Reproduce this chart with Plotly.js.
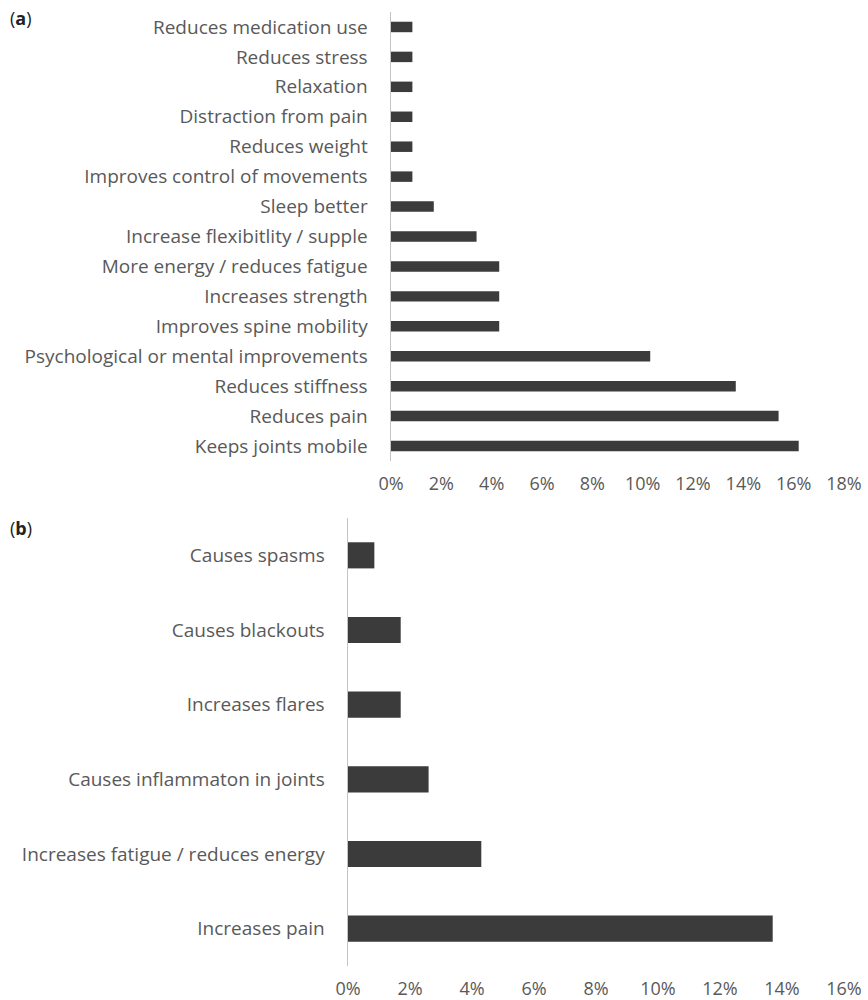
<!DOCTYPE html>
<html>
<head>
<meta charset="utf-8">
<script src="https://cdn.plot.ly/plotly-3.0.1.min.js"></script>
<style>
  html, body { margin: 0; padding: 0; background: #fff; }
  #chart { width: 868px; height: 1000px; }
</style>
</head>
<body>
<div id="chart"></div>
<script>
// (a) perceived benefits of exercise, listed top to bottom
const benefitLabels = [
  'Reduces medication use',
  'Reduces stress',
  'Relaxation',
  'Distraction from pain',
  'Reduces weight',
  'Improves control of movements',
  'Sleep better',
  'Increase flexibitlity / supple',
  'More energy / reduces fatigue',
  'Increases strength',
  'Improves spine mobility',
  'Psychological or mental improvements',
  'Reduces stiffness',
  'Reduces pain',
  'Keeps joints mobile'
];
const benefitPct = [0.85, 0.85, 0.85, 0.85, 0.85, 0.85, 1.7, 3.4, 4.3, 4.3, 4.3, 10.3, 13.7, 15.4, 16.2];

// (b) perceived harms of exercise, listed top to bottom
const harmLabels = [
  'Causes spasms',
  'Causes blackouts',
  'Increases flares',
  'Causes inflammaton in joints',
  'Increases fatigue / reduces energy',
  'Increases pain'
];
const harmPct = [0.85, 1.7, 1.7, 2.6, 4.3, 13.7];

const axisRangeA = [0, 18];
const axisRangeB = [0, 16];

const barColor = '#3b3b3b';
const textColor = '#595959';
const fontFamily = '"Open Sans", "Liberation Sans", sans-serif';
const W = 868, H = 1000;

const traces = [
  {
    type: 'bar', orientation: 'h',
    y: benefitLabels, x: benefitPct,
    xaxis: 'x', yaxis: 'y',
    marker: { color: barColor, line: { width: 0 } },
    hoverinfo: 'x+y'
  },
  {
    type: 'bar', orientation: 'h',
    y: harmLabels, x: harmPct,
    xaxis: 'x2', yaxis: 'y2',
    marker: { color: barColor, line: { width: 0 } },
    hoverinfo: 'x+y'
  }
];

const xTickFont = { family: fontFamily, size: 18, color: textColor };
const yTickFont = { family: fontFamily, size: 19, color: textColor };

const xCommon = {
  showgrid: false, zeroline: false, showline: false,
  ticks: '', dtick: 2, ticksuffix: '%',
  tickfont: xTickFont, fixedrange: true, ticklabelstandoff: 10
};
const yCommon = {
  type: 'category', autorange: 'reversed',
  showgrid: false, zeroline: false,
  showline: true, linecolor: '#c4c4c4', linewidth: 1.5,
  ticks: '', tickfont: yTickFont, fixedrange: true, ticklabelstandoff: 18
};

const layout = {
  width: W, height: H,
  margin: { l: 0, r: 0, t: 0, b: 0 },
  paper_bgcolor: '#ffffff', plot_bgcolor: '#ffffff',
  showlegend: false,
  bargap: 0.65,
  font: { family: fontFamily, color: textColor },
  xaxis: Object.assign({}, xCommon, {
    domain: [391 / W, 844 / W], range: axisRangeA, anchor: 'y'
  }),
  yaxis: Object.assign({}, yCommon, {
    domain: [1 - 461 / H, 1 - 12 / H], anchor: 'x'
  }),
  xaxis2: Object.assign({}, xCommon, {
    domain: [348 / W, 844 / W], range: axisRangeB, anchor: 'y2'
  }),
  yaxis2: Object.assign({}, yCommon, {
    domain: [1 - 966 / H, 1 - 518 / H], anchor: 'x2'
  }),
  annotations: [
    {
      text: '(<b>a</b>)', xref: 'paper', yref: 'paper',
      x: 8 / W, y: 1 - 18 / H, xanchor: 'left', yanchor: 'middle',
      showarrow: false, font: { family: fontFamily, size: 18, color: '#222222' }
    },
    {
      text: '(<b>b</b>)', xref: 'paper', yref: 'paper',
      x: 8 / W, y: 1 - 528 / H, xanchor: 'left', yanchor: 'middle',
      showarrow: false, font: { family: fontFamily, size: 18, color: '#222222' }
    }
  ]
};

Plotly.newPlot('chart', traces, layout, { displayModeBar: false, staticPlot: true });
</script>
</body>
</html>
